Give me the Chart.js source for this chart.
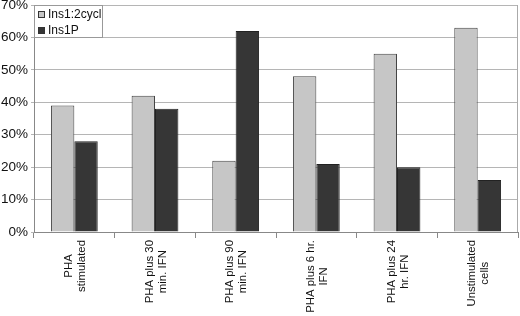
<!DOCTYPE html>
<html>
<head>
<meta charset="utf-8">
<script src="https://cdn.jsdelivr.net/npm/chart.js@4/dist/chart.umd.min.js"></script>
<style>
  html, body { margin: 0; padding: 0; background: #fff; }
  #wrap { width: 520px; height: 316px; }
</style>
</head>
<body>
<div id="wrap"><canvas id="chart" width="520" height="316"></canvas></div>
<script>
const categories = [
    ['PHA', 'stimulated'],
    ['PHA plus 30', 'min. IFN'],
    ['PHA plus 90', 'min. IFN'],
    ['PHA plus 6 hr.', 'IFN'],
    ['PHA plus 24', 'hr. IFN'],
    ['Unstimulated', 'cells']
];
const ins12cycl = [39, 42, 22, 48, 55, 63];
const ins1P = [28, 38, 62, 21, 20, 16];
const yTicks = [0, 10, 20, 30, 40, 50, 60, 70];

const FONT = 'Arial, "Liberation Sans", sans-serif';

// category labels, each line centred, reading bottom to top
const xLabels = {
    id: 'xLabels',
    afterDraw(chart) {
        const ctx = chart.ctx;
        const xs = chart.scales.x;
        const top = chart.chartArea.bottom + 8;
        const lh = 13;
        ctx.save();
        ctx.font = '11.4px ' + FONT;
        ctx.fillStyle = '#111';
        ctx.textAlign = 'center';
        ctx.textBaseline = 'middle';
        chart.data.labels.forEach((lines, i) => {
            const x = xs.getPixelForValue(i);
            const maxW = Math.max(...lines.map(l => ctx.measureText(l).width));
            lines.forEach((line, j) => {
                ctx.save();
                ctx.translate(x + (j - (lines.length - 1) / 2) * lh + 1, top + maxW / 2);
                ctx.rotate(-Math.PI / 2);
                ctx.fillText(line, 0, 0);
                ctx.restore();
            });
        });
        ctx.restore();
    }
};

// legend box sitting inside the plot, top left
const innerLegend = {
    id: 'innerLegend',
    afterDraw(chart) {
        const ctx = chart.ctx;
        const a = chart.chartArea;
        const x0 = a.left, y0 = a.top;
        ctx.save();
        ctx.fillStyle = '#fff';
        ctx.fillRect(x0, y0, 68, 32);
        ctx.strokeStyle = '#999';
        ctx.lineWidth = 1;
        ctx.strokeRect(x0 + 0.5, y0 + 0.5, 68, 32);
        ctx.font = '12px ' + FONT;
        ctx.textBaseline = 'middle';
        chart.data.datasets.forEach((ds, i) => {
            const cy = y0 + 10 + i * 16;
            ctx.fillStyle = ds.backgroundColor;
            ctx.fillRect(x0 + 4, cy - 4, 7, 7);
            ctx.strokeStyle = '#333';
            ctx.strokeRect(x0 + 4.5, cy - 3.5, 6, 6);
            ctx.fillStyle = '#111';
            ctx.fillText(ds.label, x0 + 14, cy);
        });
        ctx.restore();
    }
};

// frame on the right side of the plot
const rightEdge = {
    id: 'rightEdge',
    beforeDatasetsDraw(chart) {
        const ctx = chart.ctx;
        const a = chart.chartArea;
        ctx.save();
        ctx.strokeStyle = '#aaa';
        ctx.lineWidth = 1;
        ctx.beginPath();
        ctx.moveTo(a.right - 0.5, a.top);
        ctx.lineTo(a.right - 0.5, a.bottom);
        ctx.stroke();
        ctx.restore();
    }
};

new Chart(document.getElementById('chart').getContext('2d'), {
    type: 'bar',
    data: {
        labels: categories,
        datasets: [
            {
                label: 'Ins1:2cycl',
                data: ins12cycl,
                backgroundColor: '#c6c6c6',
                borderColor: '#444',
                borderWidth: 1,
                categoryPercentage: 0.58,
                barPercentage: 1.0
            },
            {
                label: 'Ins1P',
                data: ins1P,
                backgroundColor: '#363636',
                borderColor: '#222',
                borderWidth: 1,
                categoryPercentage: 0.58,
                barPercentage: 1.0
            }
        ]
    },
    options: {
        responsive: false,
        animation: false,
        layout: { padding: { top: 5, right: 2, left: 0, bottom: 0 } },
        plugins: {
            legend: { display: false },
            tooltip: { enabled: false }
        },
        scales: {
            x: {
                grid: {
                    offset: true,
                    drawOnChartArea: false,
                    drawTicks: true,
                    tickLength: 6,
                    color: '#888'
                },
                border: { color: '#888' },
                ticks: { display: false },
                afterFit: s => { s.height = 84; }
            },
            y: {
                min: 0,
                max: 70,
                afterBuildTicks: s => { s.ticks = yTicks.map(v => ({ value: v })); },
                grid: { color: '#b5b5b5', tickLength: 3 },
                border: { color: '#888' },
                ticks: {
                    padding: 3,
                    color: '#111',
                    font: { family: FONT, size: 13.5 },
                    callback: v => v + '%'
                },
                afterFit: s => { s.width = 34; s.paddingTop = 0; s.paddingBottom = 0; }
            }
        }
    },
    plugins: [rightEdge, innerLegend, xLabels]
});
</script>
</body>
</html>
